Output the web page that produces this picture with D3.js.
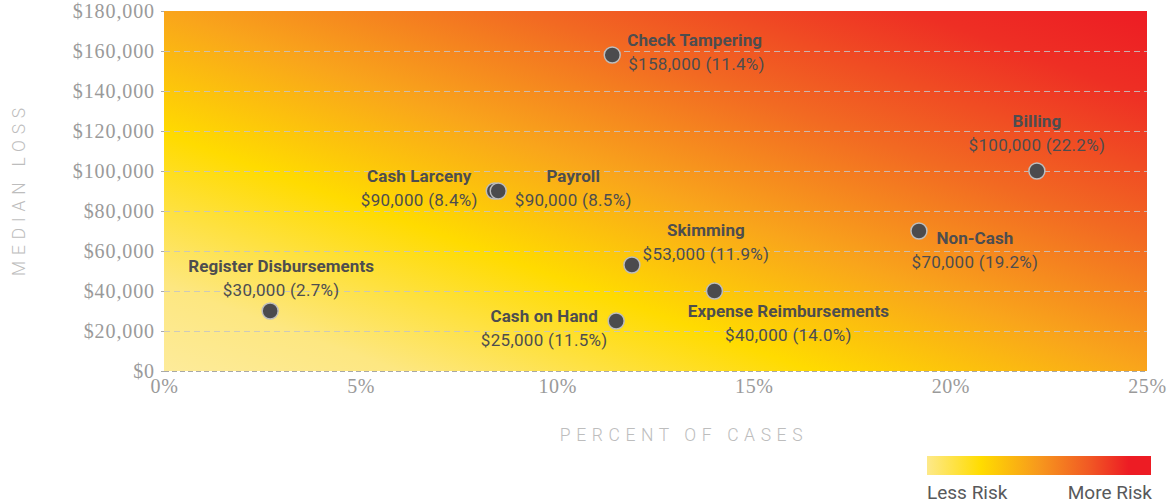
<!DOCTYPE html>
<html><head><meta charset="utf-8">
<script src="https://cdn.jsdelivr.net/npm/d3@7"></script>
<style>
body{margin:0;background:#fff;}
svg{display:block;}
</style></head>
<body>
<svg id="chart" width="1173" height="504"></svg>
<script>
// ---- data ----
const categories = ["Check Tampering","Billing","Cash Larceny","Payroll","Skimming","Non-Cash","Register Disbursements","Cash on Hand","Expense Reimbursements"];
const percentCases = [11.4, 22.2, 8.4, 8.5, 11.9, 19.2, 2.7, 11.5, 14.0];
const medianLoss = [158000, 100000, 90000, 90000, 53000, 70000, 30000, 25000, 40000];
const yTicks = [0,20000,40000,60000,80000,100000,120000,140000,160000,180000];
const xTicks = [0,5,10,15,20,25];
const legendLabels = ["Less Risk","More Risk"];

// ---- layout (label placement relative to the point) ----
const labelPlacement = {
  "Check Tampering": {dx:15, dy:-15, anchor:"start"},
  "Billing": {dx:0, dy:-50, anchor:"middle"},
  "Cash Larceny": {dx:-75, dy:-15, anchor:"middle"},
  "Payroll": {dx:75, dy:-15, anchor:"middle"},
  "Skimming": {dx:74, dy:-35, anchor:"middle"},
  "Non-Cash": {dx:56, dy:7, anchor:"middle"},
  "Register Disbursements": {dx:11, dy:-45, anchor:"middle"},
  "Cash on Hand": {dx:-72, dy:-5, anchor:"middle"},
  "Expense Reimbursements": {dx:74, dy:20, anchor:"middle"}
};

const svg = d3.select("#chart");
const m = {left:164, right:1147, top:11, bottom:371};
const x = d3.scaleLinear().domain([0,25]).range([m.left, m.right]);
const y = d3.scaleLinear().domain([0,180000]).range([m.bottom, m.top]);

const defs = svg.append("defs");
const g1 = defs.append("linearGradient").attr("id","bg")
  .attr("x1",0).attr("y1",1).attr("x2",1).attr("y2",0);
[[0,"#fdeb9a"],[0.12,"#fde781"],[0.33,"#ffdb00"],[0.5,"#f9a51b"],[0.68,"#f26a22"],[0.88,"#ee2f24"],[1,"#ed1c24"]]
  .forEach(s=>g1.append("stop").attr("offset",s[0]).attr("stop-color",s[1]));
const g2 = defs.append("linearGradient").attr("id","leg")
  .attr("x1",0).attr("y1",0).attr("x2",1).attr("y2",0);
[[0,"#fde98a"],[0.24,"#ffdc00"],[0.5,"#f7981d"],[0.72,"#f15a24"],[0.9,"#ed1c24"],[1,"#ed1c24"]]
  .forEach(s=>g2.append("stop").attr("offset",s[0]).attr("stop-color",s[1]));

svg.append("rect").attr("x",x(0)).attr("y",y(180000))
  .attr("width",x(25)-x(0)).attr("height",y(0)-y(180000)).attr("fill","url(#bg)");

// gridlines
svg.append("g").selectAll("line").data(yTicks.filter(d=>d>0 && d<180000)).join("line")
  .attr("x1",x(0)).attr("x2",x(25)).attr("y1",d=>y(d)+0.5).attr("y2",d=>y(d)+0.5)
  .attr("stroke","#c4c4c4").attr("stroke-opacity",0.85).attr("stroke-dasharray","6,4").attr("stroke-width",1);
svg.append("line").attr("x1",x(0)).attr("x2",x(25)).attr("y1",y(0)+0.5).attr("y2",y(0)+0.5)
  .attr("stroke","#a8a8a8").attr("stroke-dasharray","5,3");

// y axis
const yAxis = d3.axisLeft(y).tickValues(yTicks).tickSize(3).tickPadding(6)
  .tickFormat(d=>"$"+d3.format(",")(d));
const ya = svg.append("g").attr("transform",`translate(${x(0)},0)`).call(yAxis);
ya.select(".domain").remove();
ya.selectAll(".tick line").attr("stroke","#aaa");
ya.selectAll("text").attr("font-family","Liberation Serif, serif").attr("font-size",20)
  .attr("letter-spacing",0.9).attr("fill","#9a9a9a");

// x axis
const xAxis = d3.axisBottom(x).tickValues(xTicks).tickSize(0).tickPadding(8).tickFormat(d=>d+"%");
const xa = svg.append("g").attr("transform",`translate(0,${y(0)})`).call(xAxis);
xa.select(".domain").remove();
xa.selectAll("text").attr("font-family","Liberation Serif, serif").attr("font-size",20)
  .attr("letter-spacing",0.6).attr("fill","#9a9a9a");

// axis titles
svg.append("text").attr("transform","translate(25,189) rotate(-90)").attr("text-anchor","middle")
  .attr("font-family","Roboto, sans-serif").attr("font-weight",300).attr("font-size",17.5).attr("letter-spacing",5.8)
  .attr("fill","#bdbdbd").text("MEDIAN LOSS");
svg.append("text").attr("x",684).attr("y",441).attr("text-anchor","middle")
  .attr("font-family","Roboto, sans-serif").attr("font-weight",300).attr("font-size",17.5).attr("letter-spacing",5.6)
  .attr("fill","#bdbdbd").text("PERCENT OF CASES");

// points
const data = categories.map((c,i)=>({name:c, pct:percentCases[i], loss:medianLoss[i]}));
const labelFont = "Roboto, sans-serif";
const lg = svg.append("g");
data.forEach(d=>{
  const p = labelPlacement[d.name];
  const cx = x(d.pct), cy = y(d.loss);
  const t = lg.append("text").attr("text-anchor",p.anchor).attr("font-family",labelFont).attr("fill","#4d4d4f");
  t.append("tspan").attr("x",cx+p.dx).attr("y",cy+p.dy+5.5).attr("font-weight","bold").attr("font-size",17)
    .attr("letter-spacing",0.1).text(d.name);
  t.append("tspan").attr("x",cx+p.dx+(p.anchor==="start"?1:0)).attr("y",cy+p.dy+29.5).attr("font-size",17)
    .attr("letter-spacing",0.3).text("$"+d3.format(",")(d.loss)+" ("+d.pct.toFixed(1)+"%)");
});
svg.append("g").selectAll("circle").data(data).join("circle")
  .attr("cx",d=>x(d.pct)).attr("cy",d=>y(d.loss)).attr("r",8)
  .attr("fill","#4b4b4d").attr("stroke","#bdbdbd").attr("stroke-width",1.5);

// legend
svg.append("rect").attr("x",927).attr("y",456).attr("width",224).attr("height",19).attr("fill","url(#leg)");
svg.append("text").attr("x",927).attr("y",499).attr("font-family",labelFont).attr("font-size",19)
  .attr("fill","#58595b").text(legendLabels[0]);
svg.append("text").attr("x",1152).attr("y",499).attr("text-anchor","end").attr("font-family",labelFont).attr("font-size",19)
  .attr("fill","#58595b").text(legendLabels[1]);
</script>
</body></html>
